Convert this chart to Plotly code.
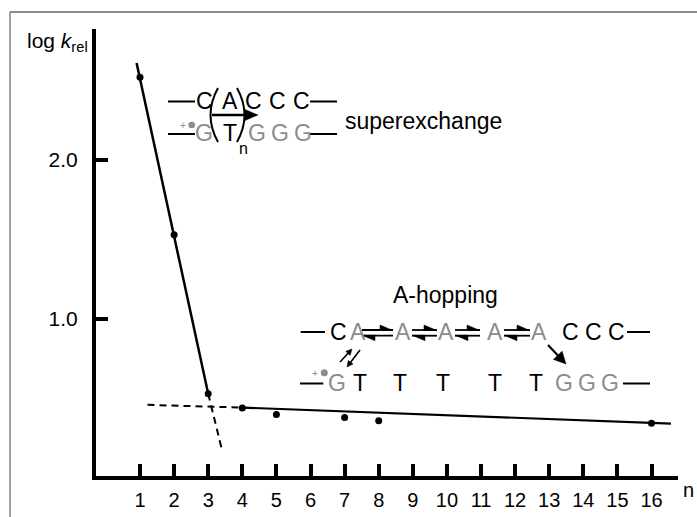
import math
import plotly.graph_objects as go

# ---------------- data ----------------
n_vals = [1, 2, 3, 4, 5, 7, 8, 16]
log_k = [2.52, 1.53, 0.53, 0.44, 0.40, 0.38, 0.36, 0.345]

super_fit_x = [0.90, 3.0]
super_fit_y = [2.61, 0.53]
super_ext_x = [3.0, 3.40]
super_ext_y = [0.53, 0.18]

hop_fit_x = [4.0, 16.57]
hop_fit_y = [0.443, 0.342]
hop_ext_x = [1.22, 4.0]
hop_ext_y = [0.46, 0.443]

x_ticks = list(range(1, 17))
x_tick_labels = [str(v) for v in x_ticks]
y_ticks = [1.0, 2.0]
y_tick_labels = ["1.0", "2.0"]

# ---------------- geometry helpers ----------------
W, H = 697, 517
L, R, T, B = 96, 19, 29, 41
PW, PH = W - L - R, H - T - B


def px(x):
    return (x - L) / PW


def py(y):
    return (H - B - y) / PH


FONT = "Arial, Liberation Sans, sans-serif"
GRAY = "#8c8c8c"
LS = 23  # letter size

fig = go.Figure()

line_black = dict(color="black", width=2.2)
dash_black = dict(color="black", width=2, dash="7px,5px")

fig.add_trace(go.Scatter(x=super_fit_x, y=super_fit_y, mode="lines", line=dict(color="black", width=2.5)))
fig.add_trace(go.Scatter(x=super_ext_x, y=super_ext_y, mode="lines", line=dash_black))
fig.add_trace(go.Scatter(x=hop_fit_x, y=hop_fit_y, mode="lines", line=line_black))
fig.add_trace(go.Scatter(x=hop_ext_x, y=hop_ext_y, mode="lines", line=dash_black))
fig.add_trace(go.Scatter(x=n_vals, y=log_k, mode="markers", marker=dict(color="black", size=7)))

annotations = []
shapes = []


def letter(txt, cx, cy, color="black", size=LS):
    annotations.append(dict(text=txt, x=px(cx), y=py(cy), xref="paper", yref="paper",
                            showarrow=False, xanchor="center", yanchor="middle",
                            font=dict(family=FONT, size=size, color=color)))


def hline(x1, x2, y, width=2, color="black"):
    shapes.append(dict(type="line", xref="paper", yref="paper", x0=px(x1), x1=px(x2),
                       y0=py(y), y1=py(y), line=dict(color=color, width=width)))


def dot(cx, cy, r, color=GRAY):
    shapes.append(dict(type="circle", xref="paper", yref="paper", x0=px(cx - r), x1=px(cx + r),
                       y0=py(cy + r), y1=py(cy - r), fillcolor=color, line=dict(width=0)))


def path(pts, closed=False, fill=None, width=2):
    s = "M " + " L ".join(f"{px(a):.5f},{py(b):.5f}" for a, b in pts)
    if closed:
        s += " Z"
    d = dict(type="path", xref="paper", yref="paper", path=s,
             line=dict(color="black", width=width if not closed else 0.5))
    if fill:
        d["fillcolor"] = fill
    shapes.append(d)


def curve(p0, c, p2, width=2):
    s = f"M {px(p0[0]):.5f},{py(p0[1]):.5f} Q {px(c[0]):.5f},{py(c[1]):.5f} {px(p2[0]):.5f},{py(p2[1]):.5f}"
    shapes.append(dict(type="path", xref="paper", yref="paper", path=s,
                       line=dict(color="black", width=width)))


def arrow(tail, head, width=2, hl=10, hw=5):
    dx, dy = head[0] - tail[0], head[1] - tail[1]
    d = math.hypot(dx, dy)
    ux, uy = dx / d, dy / d
    bx, by = head[0] - ux * hl, head[1] - uy * hl
    path([tail, (bx + ux, by + uy)], width=width)
    nx, ny = -uy, ux
    path([head, (bx + nx * hw, by + ny * hw), (bx - nx * hw, by - ny * hw)], closed=True, fill="black")


def harpoons(x1, x2, ytop=330, ybot=335.7):
    path([(x1, ytop), (x2, ytop)], width=1.8)
    path([(x2, ytop + 0.5), (x2 - 13, ytop + 0.5), (x2 - 13, ytop - 5)], closed=True, fill="black")
    path([(x1, ybot), (x2, ybot)], width=1.8)
    path([(x1, ybot - 0.5), (x1 + 13, ybot - 0.5), (x1 + 13, ybot + 5)], closed=True, fill="black")


# ---- superexchange scheme ----
hline(168, 195, 101.5)
letter("C", 204, 101)
letter("A", 229.7, 101)
letter("C", 253.3, 101)
letter("C", 277, 101)
letter("C", 301, 101)
hline(310, 337, 101.5)

hline(168, 195, 134)
letter("+", 183, 125, color=GRAY, size=10)
dot(191.7, 125, 3.3)
letter("G", 204, 133, color=GRAY)
letter("T", 229.7, 133)
letter("n", 243.3, 148, size=16)
letter("G", 257, 133, color=GRAY)
letter("G", 280.3, 133, color=GRAY)
letter("G", 303, 133, color=GRAY)
hline(310, 337, 134)

curve((218, 88), (203, 115), (218, 142))
curve((237, 88), (252, 115), (237, 142))
arrow((212, 115), (258, 115), width=2.5, hl=13, hw=5.5)

annotations.append(dict(text="superexchange", x=px(343), y=py(121), xref="paper", yref="paper",
                        showarrow=False, xanchor="left", yanchor="middle",
                        font=dict(family=FONT, size=LS, color="black")))

# ---- A-hopping scheme ----
letter("A-hopping", 445, 295)
hline(300.7, 325, 332)
letter("C", 338, 331.7)
for cx in [358, 403, 446, 495, 539]:
    letter("A", cx, 331.7, color=GRAY)
for x1, x2 in [(362, 393), (412, 437), (455, 480), (504, 530)]:
    harpoons(x1, x2)
letter("C", 570, 331.7)
letter("C", 593, 331.7)
letter("C", 616, 331.7)
hline(627, 650, 332)

hline(300, 323.3, 383.5)
letter("+", 315, 373.3, color=GRAY, size=10)
dot(324.3, 372.7, 3.5)
letter("G", 337, 383.3, color=GRAY)
for cx in [360, 400, 442.5, 495, 536]:
    letter("T", cx, 383.3)
letter("G", 564, 383.3, color=GRAY)
letter("G", 587, 383.3, color=GRAY)
letter("G", 610, 383.3, color=GRAY)
hline(623, 650, 383.5)

arrow((340, 362), (352, 349), width=1.6, hl=6, hw=3)
arrow((360, 350), (347, 367), width=1.6, hl=6, hw=3)
arrow((548, 345), (566, 364), width=2.2, hl=12, hw=6)

# ---- axis titles ----
annotations.append(dict(text="log <i>k</i><sub>rel</sub>", x=px(25), y=py(42), xref="paper", yref="paper",
                        showarrow=False, xanchor="left", yanchor="middle",
                        font=dict(family=FONT, size=21, color="black")))
annotations.append(dict(text="n", x=px(688), y=py(490), xref="paper", yref="paper",
                        showarrow=False, xanchor="center", yanchor="middle",
                        font=dict(family=FONT, size=20, color="black")))

# ---- outer frame (top & left visible) ----
shapes.append(dict(type="line", xref="paper", yref="paper", x0=px(10), x1=px(700), y0=py(12), y1=py(12),
                   line=dict(color="#666666", width=1.5), layer="below"))
shapes.append(dict(type="line", xref="paper", yref="paper", x0=px(10), x1=px(10), y0=py(12), y1=py(520),
                   line=dict(color="#666666", width=1.2), layer="below"))

x_lo = 1 + (L - 140) / 34.1
x_hi = 1 + (W - R - 140) / 34.1
y_lo = (478 - (H - B)) / 159
y_hi = (478 - T) / 159

fig.update_layout(
    width=W, height=H,
    margin=dict(l=L, r=R, t=T, b=B, pad=0, autoexpand=False),
    paper_bgcolor="white", plot_bgcolor="white",
    showlegend=False, hovermode=False,
    annotations=annotations,
    shapes=shapes,
    xaxis=dict(range=[x_lo, x_hi], tickvals=x_ticks, ticktext=x_tick_labels, automargin=False,
               showgrid=False, zeroline=False, showline=True, linewidth=4, linecolor="black",
               ticks="inside", ticklen=12, tickwidth=4, tickcolor="black",
               tickfont=dict(family=FONT, size=20, color="black"), ticklabelstandoff=3),
    yaxis=dict(range=[y_lo, y_hi], tickvals=y_ticks, ticktext=y_tick_labels, automargin=False,
               showgrid=False, zeroline=False, showline=True, linewidth=4, linecolor="black",
               ticks="inside", ticklen=12, tickwidth=4, tickcolor="black",
               tickfont=dict(family=FONT, size=21, color="black"), ticklabelstandoff=10),
)

fig.write_html("out.html", config={"displayModeBar": False},
               post_script="document.body.style.margin='0px';")
